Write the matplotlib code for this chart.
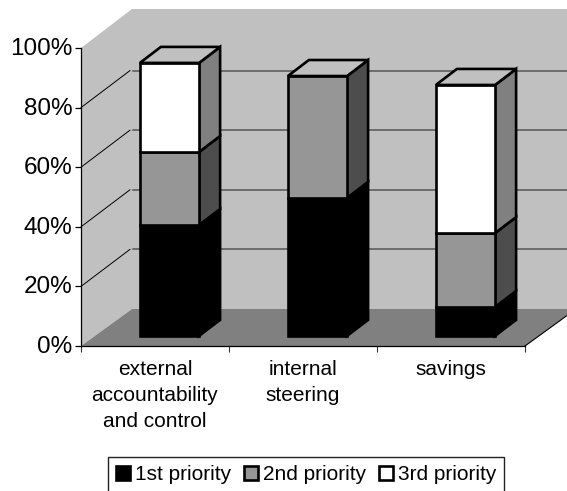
from matplotlib import pyplot as plt
from matplotlib.patches import Patch, Polygon
from matplotlib.transforms import ScaledTranslation

categories = ['external\naccountability\nand control', 'internal\nsteering', 'savings']
series_names = ['1st priority', '2nd priority', '3rd priority']
first_priority = [37.2, 46.3, 9.7]
second_priority = [24.5, 40.9, 24.8]
third_priority = [29.9, 0, 49.7]
y_ticks = [0, 20, 40, 60, 80, 100]
y_labels = ['0%', '20%', '40%', '60%', '80%', '100%']

plt.rcParams['font.family'] = ['Liberation Sans', 'DejaVu Sans']

# front, side and top shades for each stacked series
front_colors = ['#000000', '#969696', '#ffffff']
side_colors = ['#000000', '#4d4d4d', '#808080']
top_colors = ['#000000', '#c0c0c0', '#c0c0c0']

W, H = 567, 491
fig = plt.figure(figsize=(W / 100, H / 100), dpi=100)
ax = fig.add_axes([81 / W, 1 - 346 / H, 444 / W, 298 / H])
ax.set_xlim(-0.5, 2.5)
ax.set_ylim(0, 100)
ax.patch.set_visible(False)

# oblique offsets of the chart box and of each bar, in axis units
wall_dx, wall_dy = 51 / 148, 37 / 2.98
wall_top = 100 + 39 / 2.98
bar_dx, bar_dy = 21 / 148, 16 / 2.98
bar_shift, bar_base, bar_width = 14.5 / 148, 3.4, 0.4


def poly(points, color, z, edge='none', lw=0):
    ax.add_patch(Polygon(points, closed=True, facecolor=color, edgecolor=edge,
                         linewidth=lw, zorder=z, clip_on=False, joinstyle='miter'))


x0, x1 = -0.5, 2.5
# left wall, back wall, floor
poly([(x0, 0), (x0 + wall_dx, wall_dy), (x0 + wall_dx, wall_top), (x0, 100)], '#c0c0c0', 1)
poly([(x0 + wall_dx, wall_dy), (x1 + wall_dx, wall_dy), (x1 + wall_dx, wall_top),
      (x0 + wall_dx, wall_top)], '#c0c0c0', 1)
poly([(x0, 0), (x1, 0), (x1 + wall_dx, wall_dy), (x0 + wall_dx, wall_dy)], '#808080', 1)

for v in y_ticks[1:-1]:
    ax.plot([x0, x0 + wall_dx * 0.96], [v, v + wall_dy], color='black', lw=0.7, zorder=2, clip_on=False)
    ax.plot([x0 + wall_dx * 1.02, x1 + wall_dx], [v + wall_dy, v + wall_dy], color='#555555',
            lw=1.1, zorder=2, clip_on=False)
ax.plot([x1, x1 + wall_dx], [0, wall_dy], color='black', lw=0.8, zorder=2, clip_on=False)

# stacked bars, bottom segment first
stacks = [first_priority, second_priority, third_priority]
for i in range(len(categories)):
    left = i - bar_width / 2 + bar_shift
    right = left + bar_width
    bottom = bar_base
    z = 3 + i
    for s, values in enumerate(stacks):
        v = values[i]
        if v == 0:
            continue
        top = bottom + v
        poly([(right, bottom), (right + bar_dx, bottom + bar_dy), (right + bar_dx, top + bar_dy),
              (right, top)], side_colors[s], z, 'black', 1.9)
        poly([(left, bottom), (right, bottom), (right, top), (left, top)], front_colors[s], z, 'black', 1.9)
        bottom = top
    # the cap takes the colour of the last visible segment
    last = 2 if stacks[2][i] > 0 else 1
    poly([(left, bottom), (right, bottom), (right + bar_dx, bottom + bar_dy),
          (left + bar_dx, bottom + bar_dy)], top_colors[last], z, 'black', 1.9)

for name in ['top', 'right']:
    ax.spines[name].set_visible(False)
for name in ['left', 'bottom']:
    ax.spines[name].set_linewidth(0.9)
    ax.spines[name].set_zorder(10)

ax.set_yticks(y_ticks)
ax.set_yticklabels(y_labels, fontsize=17.5, va='center')
ax.set_xticks([-0.5, 0.5, 1.5, 2.5])
ax.set_xticklabels([])
ax.tick_params(axis='y', length=4.5, width=0.9, pad=1.5)
ax.tick_params(axis='x', length=4.5, width=0.8, color='#333333')
for lab in ax.get_yticklabels():
    lab.set_transform(lab.get_transform() + ScaledTranslation(0, -0.01, fig.dpi_scale_trans))

# category labels are centred under their groups
for x, text in enumerate(categories):
    ax.text(x, -4.6, text, ha='center', va='top', fontsize=15, linespacing=1.48, clip_on=False)

handles = [Patch(facecolor=c, edgecolor='black', linewidth=1.9) for c in front_colors]
fig.legend(handles, series_names, ncol=3, fontsize=15, loc='center', frameon=True, fancybox=False,
           edgecolor='#222222', framealpha=1, bbox_to_anchor=(306 / W, 1 - 474.5 / H),
           handlelength=0.67, handleheight=0.67, handletextpad=0.24, columnspacing=0.62,
           borderpad=0.38, borderaxespad=0)

fig.savefig('out.png', dpi=100)
plt.close()
